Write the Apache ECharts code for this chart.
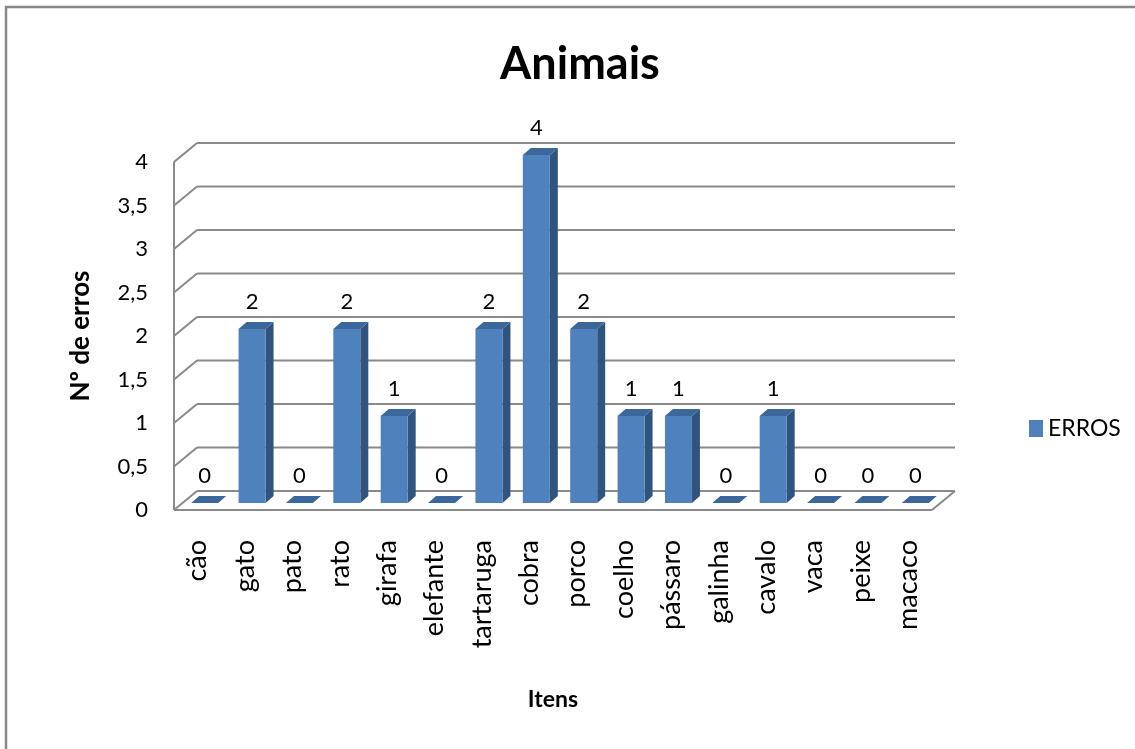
<!DOCTYPE html>
<html>
<head>
<meta charset="utf-8">
<title>Animais</title>
<script src="https://cdn.jsdelivr.net/npm/echarts@6/dist/echarts.min.js"></script>
<style>
  html, body { margin: 0; padding: 0; background: #fff; }
  #chart { width: 1135px; height: 749px; }
</style>
</head>
<body>
<div id="chart"></div>
<script>
const categories = ['cão', 'gato', 'pato', 'rato', 'girafa', 'elefante', 'tartaruga', 'cobra',
  'porco', 'coelho', 'pássaro', 'galinha', 'cavalo', 'vaca', 'peixe', 'macaco'];
const erros = [0, 2, 0, 2, 1, 0, 2, 4, 2, 1, 1, 0, 1, 0, 0, 0];
const yTicks = [0, 0.5, 1, 1.5, 2, 2.5, 3, 3.5, 4];

const FONT = 'Lato, "Open Sans", sans-serif';
const GRID_COLOR = '#8a8a8a';
// profundidade do "3D" (parede do fundo)
const WALL_DX = 23, WALL_DY = -19;
// posição das barras dentro da profundidade
const BAR_DX = 7, BAR_DY = -7, BAR_DEPTH_X = 8, BAR_DEPTH_Y = -7;

const chart = echarts.init(document.getElementById('chart'));

function renderFrame(params, api) {
  const cs = params.coordSys;
  const v = api.value(0);
  const y = api.coord([0, v])[1];
  const L = cs.x, R = cs.x + cs.width;
  const line = (x1, y1, x2, y2) => ({
    type: 'line',
    shape: { x1, y1, x2, y2 },
    style: { stroke: GRID_COLOR, lineWidth: 2 }
  });
  const children = [
    line(L, y, L + WALL_DX, y + WALL_DY),
    line(L + WALL_DX, y + WALL_DY, R + WALL_DX, y + WALL_DY)
  ];
  if (params.dataIndex === 0) {
    // chão + aresta frontal da parede esquerda
    children.push(line(L, y, R, y));
    children.push(line(R, y, R + WALL_DX, y + WALL_DY));
    children.push(line(L, cs.y, L, y));
  }
  return { type: 'group', children };
}

function renderBar(params, api) {
  const idx = api.value(0);
  const v = api.value(1);
  const base = api.coord([idx, 0]);
  const top = api.coord([idx, v]);
  const w = api.size([1, 0])[0] * 0.57;
  const cx = base[0] + BAR_DX;
  const x0 = cx - w / 2, x1 = cx + w / 2;
  const yb = base[1] + BAR_DY;
  const yt = top[1] + BAR_DY;
  const dx = BAR_DEPTH_X, dy = BAR_DEPTH_Y;
  return {
    type: 'group',
    children: [
      {
        type: 'polygon',
        shape: { points: [[x1, yt], [x1 + dx, yt + dy], [x1 + dx, yb + dy], [x1, yb]] },
        style: { fill: '#31547f' }
      },
      {
        type: 'polygon',
        shape: { points: [[x0, yt], [x0 + dx, yt + dy], [x1 + dx, yt + dy], [x1, yt]] },
        style: { fill: '#3c679b' }
      },
      {
        type: 'rect',
        shape: { x: x0, y: yt, width: w, height: yb - yt },
        style: { fill: '#4f81bd' }
      },
      {
        type: 'text',
        style: {
          text: String(v), x: cx, y: yt - 27,
          align: 'center', verticalAlign: 'middle',
          font: '22px ' + FONT, fill: '#000'
        }
      }
    ]
  };
}

const option = {
  animation: false,
  backgroundColor: '#fff',
  title: {
    text: 'Animais',
    left: 575,
    textAlign: 'center',
    top: 37,
    textStyle: { fontFamily: FONT, fontSize: 45, fontWeight: 'bold', color: '#000' }
  },
  legend: {
    left: 1024,
    top: 412,
    icon: 'rect',
    itemWidth: 14,
    itemHeight: 17,
    itemGap: 6,
    data: [{ name: 'ERROS', itemStyle: { color: '#4f81bd' } }],
    textStyle: { fontFamily: FONT, fontSize: 23, color: '#000' }
  },
  graphic: [{
    type: 'rect',
    shape: { x: 6, y: 7, width: 1300, height: 900 },
    style: { fill: 'none', stroke: '#888', lineWidth: 2.5 },
    silent: true
  }],
  grid: { left: 174, right: 203, top: 162, bottom: 239 },
  xAxis: {
    type: 'category',
    data: categories,
    name: 'Itens',
    nameLocation: 'middle',
    nameGap: 178,
    nameTextStyle: { fontFamily: FONT, fontSize: 23, fontWeight: 'bold', color: '#000' },
    axisLine: { show: false },
    axisTick: { show: false },
    axisLabel: { interval: 0, rotate: 90, margin: 30, fontFamily: FONT, fontSize: 27, color: '#000' }
  },
  yAxis: {
    type: 'value',
    min: 0,
    max: 4,
    interval: 0.5,
    name: 'Nº de erros',
    nameLocation: 'middle',
    nameGap: 80,
    nameTextStyle: { fontFamily: FONT, fontSize: 26, fontWeight: 'bold', color: '#000' },
    axisLine: { show: false },
    axisTick: { show: false },
    splitLine: { show: false },
    axisLabel: {
      margin: 26,
      fontFamily: FONT,
      fontSize: 22,
      color: '#000',
      padding: [6, 0, 0, 0],
      formatter: v => String(v).replace('.', ',')
    }
  },
  series: [
    {
      name: 'grade',
      type: 'custom',
      renderItem: renderFrame,
      data: yTicks.map(v => [v]),
      encode: { y: 0 },
      clip: false,
      silent: true,
      z: 1
    },
    {
      name: 'ERROS',
      type: 'custom',
      renderItem: renderBar,
      data: erros.map((v, i) => [i, v]),
      encode: { x: 0, y: 1 },
      itemStyle: { color: '#4f81bd' },
      clip: false,
      z: 2
    }
  ]
};

chart.setOption(option);
</script>
</body>
</html>
